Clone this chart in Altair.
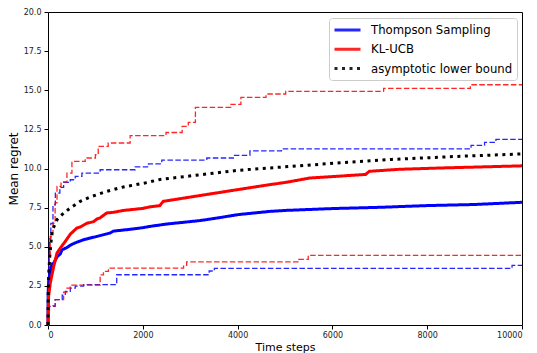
import altair as alt
import pandas as pd

# ---- data ----
SERIES = ["Thompson Sampling", "KL-UCB", "asymptotic lower bound"]
COLORS = ["#0000ff", "#ff0000", "#000000"]

TS_T = [0, 3, 15, 40, 85, 120, 190, 260, 295, 400, 470, 575, 750, 820, 1030, 1310, 1380,
        1660, 2000, 2150, 2500, 3200, 3600, 4000, 4680, 5000, 6000, 7000, 8000, 9000, 10000]
TS_V = [0, 2.0, 2.8, 3.3, 3.9, 3.95, 4.35, 4.55, 4.8, 4.95, 5.1, 5.25, 5.45, 5.5, 5.66, 5.88, 6.0,
        6.09, 6.22, 6.3, 6.45, 6.67, 6.85, 7.05, 7.26, 7.32, 7.44, 7.52, 7.63, 7.7, 7.84]

KL_T = [0, 5, 13, 48, 120, 190, 260, 365, 470, 505, 610, 680, 820, 960, 1030, 1100, 1240,
        1380, 1590, 2000, 2150, 2360, 2430, 3200, 4000, 4680, 5030, 5520, 6700, 6780, 7415,
        8250, 10000]
KL_V = [0, 1.0, 1.83, 2.68, 3.74, 4.6, 4.92, 5.34, 5.8, 5.9, 6.2, 6.26, 6.5, 6.6, 6.77, 6.85, 7.16,
        7.2, 7.32, 7.45, 7.55, 7.63, 7.9, 8.27, 8.65, 8.97, 9.12, 9.39, 9.62, 9.82, 9.95,
        10.03, 10.17]

LB_T = [0, 5, 15, 40, 85, 190, 295, 470, 680, 890, 1240, 1590, 2085, 2365, 3350, 4000,
        4610, 5875, 7250, 8610, 10000]
LB_V = [0, 2.0, 3.3, 4.5, 6.0, 6.73, 7.05, 7.48, 7.9, 8.18, 8.54, 8.82, 9.1, 9.3, 9.65, 9.88,
        10.02, 10.3, 10.58, 10.77, 10.93]

TS_UP_T = [0, 5, 15, 30, 60, 105, 155, 250, 330, 470, 575, 715, 1100, 1840, 2120, 2400,
           3350, 3910, 4260, 4925, 8925, 9210, 9450, 10000]
TS_UP_V = [0, 3.0, 4.5, 5.5, 6.5, 7.69, 8.43, 8.8, 9.11, 9.28, 9.5, 9.71, 9.92, 10.1, 10.3, 10.54,
           10.67, 10.84, 11.12, 11.25, 11.48, 11.67, 11.86, 11.86]

KL_UP_T = [0, 5, 15, 30, 48, 105, 150, 190, 275, 400, 505, 785, 1000, 1060, 1270, 1733,
           2490, 2830, 2960, 3110, 3860, 4070, 4600, 5015, 7080, 8910, 10000]
KL_UP_V = [0, 1.5, 3.0, 4.5, 5.66, 6.5, 7.8, 8.86, 9.14, 9.7, 10.45, 10.67, 10.88, 11.41, 11.63, 12.1,
           12.3, 12.69, 12.95, 13.9, 14.1, 14.55, 14.76, 14.93, 15.12, 15.35, 15.35]

TS_LO_T = [0, 10, 30, 150, 300, 365, 470, 575, 750, 1450, 3400, 3510, 9790, 10000]
TS_LO_V = [0, 0.8, 1.19, 1.62, 1.9, 2.15, 2.36, 2.49, 2.58, 3.21, 3.45, 3.62, 3.81, 3.81]

KL_LO_T = [0, 10, 30, 155, 330, 400, 470, 1100, 1170, 1275, 2860, 2925, 5290, 5490, 10000]
KL_LO_V = [0, 0.77, 1.23, 1.62, 2.1, 2.36, 2.55, 3.2, 3.43, 3.64, 3.81, 4.03, 4.19, 4.45, 4.45]

X_TICKS = [0, 2000, 4000, 6000, 8000, 10000]
Y_TICKS = [0, 2.5, 5, 7.5, 10, 12.5, 15, 17.5, 20]


def frame(series, band, ts, vs):
    return pd.DataFrame({"series": series, "band": band, "t": ts, "v": vs})


main_df = pd.concat([
    frame(SERIES[0], "mean", TS_T, TS_V),
    frame(SERIES[1], "mean", KL_T, KL_V),
    frame(SERIES[2], "mean", LB_T, LB_V),
])
band_df = pd.concat([
    frame(SERIES[0], "upper", TS_UP_T, TS_UP_V),
    frame(SERIES[0], "lower", TS_LO_T, TS_LO_V),
    frame(SERIES[1], "upper", KL_UP_T, KL_UP_V),
    frame(SERIES[1], "lower", KL_LO_T, KL_LO_V),
])

FONT = "DejaVu Sans"

x_enc = alt.X("t:Q", scale=alt.Scale(domain=[0, 10000], nice=False),
              axis=alt.Axis(title="Time steps", values=X_TICKS, format="d",
                            titleFontSize=11, titleY=25.7, titleBaseline="alphabetic",
                            labelPadding=2))
y_enc = alt.Y("v:Q", scale=alt.Scale(domain=[0, 20], nice=False),
              axis=alt.Axis(title="Mean regret", values=Y_TICKS, format=".1f",
                            titleFontSize=12, titleX=-31, titleBaseline="alphabetic",
                            labelPadding=3))
color_enc = alt.Color("series:N", scale=alt.Scale(domain=SERIES, range=COLORS),
                      legend=alt.Legend(title=None))

bands = alt.Chart(band_df).mark_line(
    interpolate="step-after", strokeWidth=1.3, strokeDash=[5.5, 2.4], opacity=0.85
).encode(x=x_enc, y=y_enc, color=color_enc, detail="band:N")

means = alt.Chart(main_df).mark_line(strokeWidth=3).encode(
    x=x_enc, y=y_enc, color=color_enc,
    strokeDash=alt.StrokeDash("series:N",
                              scale=alt.Scale(domain=SERIES, range=[[1, 0], [1, 0], [3, 4.5]]),
                              legend=alt.Legend(title=None)),
)

chart = alt.layer(bands, means).properties(
    width=474, height=313,
    autosize=alt.AutoSizeParams(type="none"),
    padding={"left": 40, "top": 4, "right": 5, "bottom": 28},
).configure_view(stroke="black", strokeWidth=1).configure_axis(
    domain=False, grid=False, tickColor="black", tickSize=4, labelFontSize=8,
    labelColor="#222", labelFont=FONT, titleFont=FONT,
    titleFontWeight="normal", titleColor="black",
).configure_legend(
    orient="top-right", offset=5.5, padding=4, labelFont=FONT, labelFontSize=11.7,
    labelColor="black", symbolType="M-1,0H3", symbolStrokeWidth=3, symbolSize=169,
    strokeColor="#cccccc", fillColor="white", cornerRadius=3, rowPadding=4.3,
    labelOffset=22,
)

chart.save("out.html", embed_options={"renderer": "svg", "actions": False})
